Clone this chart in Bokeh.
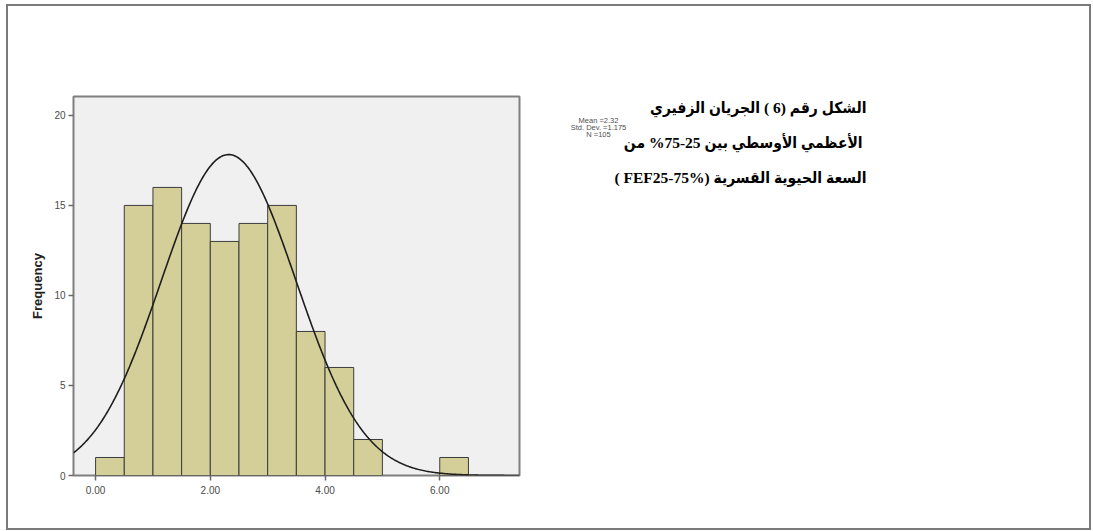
import numpy as np
from bokeh.plotting import figure
from bokeh.layouts import row
from bokeh.models import Range1d, FixedTicker
from bokeh.core.properties import value
from bokeh.embed import file_html
from bokeh.resources import INLINE

# ---------------- data ----------------
bin_left = [0.0, 0.5, 1.0, 1.5, 2.0, 2.5, 3.0, 3.5, 4.0, 4.5, 5.0, 5.5, 6.0]
counts = [1, 15, 16, 14, 13, 14, 15, 8, 6, 2, 0, 0, 1]
bin_width = 0.5
mean_val = 2.32
std_val = 1.175
n_val = 105
stat_lines = ["Mean =2.32", "Std. Dev. =1.175", "N =105"]
title_lines = [
    "الشكل رقم (6 ) الجريان الزفيري",
    "الأعظمي  الأوسطي بين 25-75% من",
    "( FEF25-75%) السعة الحيوية القسرية",
]
x_ticks = [0, 2, 4, 6]
y_ticks = [0, 5, 10, 15, 20]
y_label = "Frequency"

# ---------------- layout (page pixels) ----------------
OX, OY = 8, 6              # page position of the content box (inside the outer border)
CW, CH = 1081, 522         # content size
LEFT_W = 532
FRAME_L, FRAME_T = 73 - OX, 96 - OY
FRAME_W, FRAME_H = 446, 379
X0, X1 = -0.385, 7.39
Y0, Y1 = 0.0, 21.05

p = figure(
    width=LEFT_W, height=CH, frame_width=FRAME_W, frame_height=FRAME_H,
    min_border_left=FRAME_L, min_border_top=FRAME_T,
    min_border_right=LEFT_W - FRAME_L - FRAME_W, min_border_bottom=CH - FRAME_T - FRAME_H,
    x_range=Range1d(X0, X1), y_range=Range1d(Y0, Y1),
    output_backend="svg", toolbar_location=None,
)
p.background_fill_color = "#f0f0f0"
p.border_fill_color = "white"
p.outline_line_color = "#7f7f7f"
p.outline_line_width = 2
p.xgrid.visible = False
p.ygrid.visible = False

# bars
lefts = [l for l, c in zip(bin_left, counts) if c > 0]
tops = [c for c in counts if c > 0]
rights = [l + bin_width for l in lefts]
p.quad(left=lefts, right=rights, bottom=0, top=tops,
       fill_color="#d4cf98", line_color="#3c3c3c", line_width=1)

# normal curve from the stated Mean / Std. Dev. / N
xs = np.linspace(X0, X1, 400)
ys = n_val * bin_width * np.exp(-0.5 * ((xs - mean_val) / std_val) ** 2) / (std_val * np.sqrt(2 * np.pi))
p.line(xs, ys, line_color="#1e1e1e", line_width=1.6)

# axes
for ax in (p.xaxis[0], p.yaxis[0]):
    ax.axis_line_color = None
    ax.major_tick_line_color = "#6a6a6a"
    ax.major_tick_line_width = 1.5
    ax.major_tick_out = 5
    ax.major_tick_in = 0
    ax.minor_tick_line_color = None
    ax.major_label_text_font = "Liberation Sans"
    ax.major_label_text_font_size = "10px"
    ax.major_label_text_color = "#4a4a4a"
p.xaxis.ticker = FixedTicker(ticks=x_ticks)
p.xaxis.major_label_overrides = {t: f"{t:.2f}" for t in x_ticks}
p.xaxis.major_label_standoff = 5
p.yaxis.ticker = FixedTicker(ticks=y_ticks)
p.yaxis.major_label_standoff = 3
p.yaxis.axis_label = y_label
p.yaxis.axis_label_text_font = "Liberation Sans"
p.yaxis.axis_label_text_font_size = "13px"
p.yaxis.axis_label_text_font_style = "bold"
p.yaxis.axis_label_text_color = "#222222"
p.yaxis.axis_label_standoff = 6

# right panel: its frame fills it, data coordinates = page pixels
RX0 = OX + LEFT_W
t = figure(
    width=CW - LEFT_W, height=CH,
    x_range=Range1d(RX0, OX + CW), y_range=Range1d(OY + CH, OY),
    x_axis_location=None, y_axis_location=None, min_border=0,
    output_backend="svg", toolbar_location=None,
)
t.frame_align = False
t.outline_line_color = None
t.background_fill_color = "white"
t.border_fill_color = "white"
t.xgrid.visible = False
t.ygrid.visible = False

t.text(x=[598] * len(stat_lines), y=[120 + 7 * i for i in range(len(stat_lines))], text=stat_lines,
       text_align="center", text_baseline="middle", text_font=value("Liberation Sans"),
       text_font_size="7.5px", text_color="#505050")
t.text(x=[866] * len(title_lines), y=[107 + 35 * i for i in range(len(title_lines))], text=title_lines,
       text_align="right", text_baseline="middle",
       text_font=value("Liberation Serif, DejaVu Sans Condensed, DejaVu Sans"),
       text_font_size="15.5px", text_font_style="bold", text_color="black")

layout = row(p, t, spacing=0)
layout.styles = {"border": "2px solid #7a7a7a", "margin-left": "6px", "margin-top": "4px"}

open("out.html", "w").write(file_html(layout, INLINE))
